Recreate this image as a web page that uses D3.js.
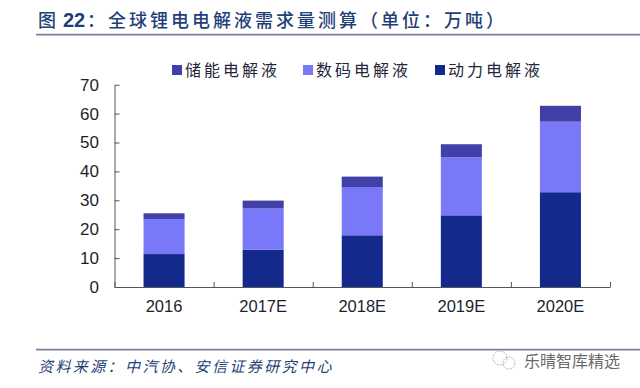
<!DOCTYPE html>
<html><head><meta charset="utf-8">
<script src="https://cdn.jsdelivr.net/npm/d3@7"></script>
<style>html,body{margin:0;padding:0;background:#fff}svg{display:block}</style>
</head><body><svg id="c" width="640" height="388"></svg>
<script>
const categories = ["2016","2017E","2018E","2019E","2020E"];
const power = [11.4,12.9,17.9,24.8,32.8];
const digital = [12.1,14.3,16.7,20.1,24.4];
const storage = [2.0,2.7,3.6,4.5,5.5];
const yTicks = [0,10,20,30,40,50,60,70];
const seriesNames = ["动力电解液","数码电解液","储能电解液"];
const seriesColors = ["#14298c","#7878f8","#4040a8"];
const legendOrder = [2,1,0];
const titleLead = "图", titleNum = "22", titleRest = "：全球锂电电解液需求量测算（单位：万吨）";
const sourceText = "资料来源：中汽协、安信证券研究中心";
const watermark = "乐晴智库精选";

const cjk = "'Noto Sans CJK SC','Noto Sans',sans-serif";
const latin = "'Liberation Sans',Arial,sans-serif";
const svg = d3.select("#c");
const m = {l:114.5, r:610, t:84.7, b:287};
const x = d3.scaleBand().domain(categories).range([m.l,m.r]).paddingInner(0.586).paddingOuter(0.293);
const xEdge = d3.scaleLinear().domain([0,categories.length]).range([m.l,m.r]);
const y = d3.scaleLinear().domain([0,70]).range([m.b,m.t]);

const rows = categories.map((c,i)=>({c,power:power[i],digital:digital[i],storage:storage[i]}));
const stack = d3.stack().keys(["power","digital","storage"])(rows);
svg.selectAll("g.s").data(stack).join("g").attr("class","s").attr("fill",(d,i)=>seriesColors[i])
  .selectAll("rect").data(d=>d).join("rect")
  .attr("x",d=>x(d.data.c)).attr("width",x.bandwidth())
  .attr("y",d=>y(d[1])).attr("height",d=>y(d[0])-y(d[1]));

const axisCol = "#55565c", textCol = "#1c1f2e";
const gy = svg.append("g").attr("transform",`translate(${m.l},0)`)
  .call(d3.axisLeft(y).tickValues(yTicks).tickSizeInner(-5).tickSizeOuter(0).tickPadding(15.5));
gy.selectAll("path,line").attr("stroke",axisCol).attr("stroke-width",1);
gy.selectAll("text").attr("font-family",latin).attr("font-size",17).attr("fill",textCol);

const gx = svg.append("g").attr("transform",`translate(0,${m.b})`)
  .call(d3.axisBottom(xEdge).tickValues(d3.range(categories.length+1)).tickSizeInner(-5).tickSizeOuter(0).tickFormat(""));
gx.selectAll("path,line").attr("stroke",axisCol).attr("stroke-width",1);
gx.selectAll("text").remove();
const gl = svg.append("g").attr("transform",`translate(0,${m.b})`)
  .call(d3.axisBottom(x).tickSize(0).tickPadding(13));
gl.select("path").remove();
gl.selectAll("text").attr("font-family",latin).attr("font-size",16.5).attr("fill",textCol);

// Title
svg.append("text").attr("x",38).attr("y",27).attr("fill","#1f3f78")
  .attr("font-family",cjk).attr("font-size",18).attr("font-weight",500).text(titleLead);
svg.append("text").attr("x",63).attr("y",27).attr("fill","#1f3f78")
  .attr("font-family",latin).attr("font-size",20).attr("font-weight",700).text(titleNum);
svg.append("text").attr("x",87).attr("y",27).attr("fill","#1f3f78")
  .attr("font-family",cjk).attr("font-size",18).attr("font-weight",500).attr("letter-spacing",3).text(titleRest);

// Rules
[[34.7,1.8],[349.7,1.8]].forEach(([yy,w])=>svg.append("line").attr("x1",36).attr("x2",640)
  .attr("y1",yy).attr("y2",yy).attr("stroke","#7a8094").attr("stroke-width",w));

// Legend
const legX = [172,303,435];
legendOrder.forEach((s,i)=>{
  const g = svg.append("g").attr("transform",`translate(${legX[i]},0)`);
  g.append("rect").attr("x",0).attr("y",65).attr("width",10).attr("height",10).attr("fill",seriesColors[s]);
  g.append("text").attr("x",13).attr("y",76).attr("font-family",cjk).attr("font-size",16)
    .attr("letter-spacing",3).attr("fill","#23263a").text(seriesNames[s]);
});

// Source
svg.append("text").attr("x",38).attr("y",372).attr("font-family",cjk).attr("font-size",15)
  .attr("font-style","italic").attr("letter-spacing",2.4).attr("fill","#1f3f78").text(sourceText);

// Watermark
const wm = svg.append("g").attr("fill","none").attr("stroke","#b5b5b5").attr("stroke-width",1).attr("stroke-dasharray","2 1");
wm.append("circle").attr("cx",500).attr("cy",358).attr("r",7);
wm.append("circle").attr("cx",509).attr("cy",363).attr("r",6);
svg.append("text").attr("x",524).attr("y",367).attr("font-family",cjk).attr("font-size",16)
  .attr("fill","#6a6a6a").text(watermark);
</script></body></html>
